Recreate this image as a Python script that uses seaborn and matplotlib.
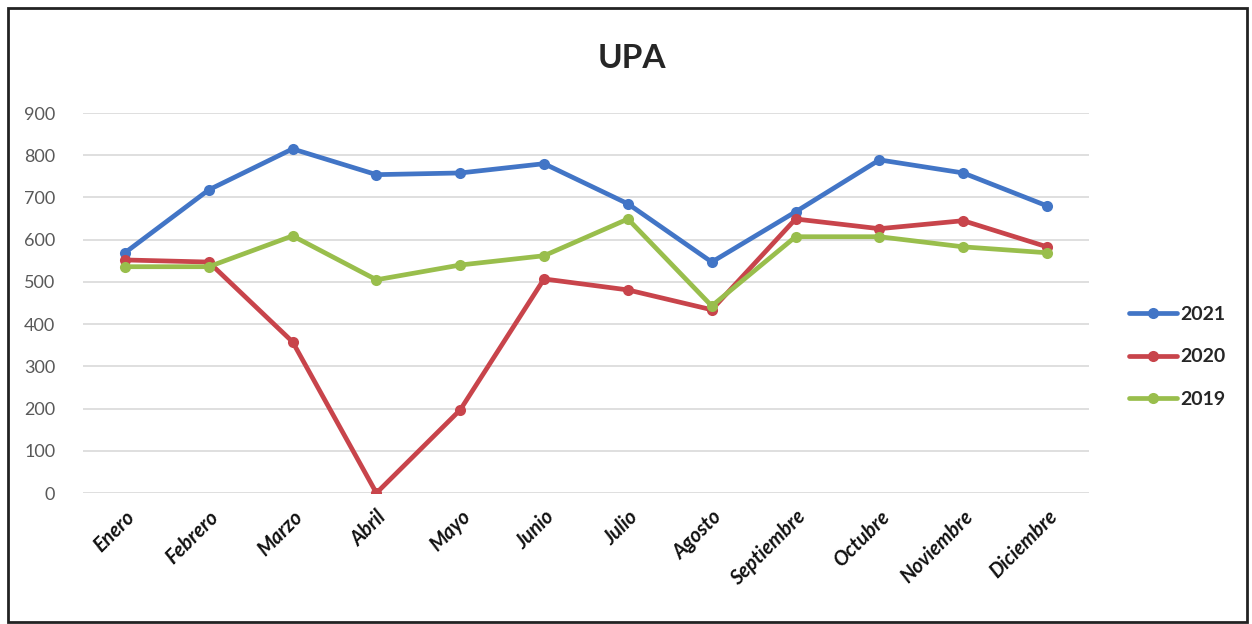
import matplotlib
matplotlib.use("Agg")
import matplotlib.pyplot as plt
import seaborn as sns
import pandas as pd
from matplotlib.patches import Rectangle

months = ["Enero", "Febrero", "Marzo", "Abril", "Mayo", "Junio", "Julio",
          "Agosto", "Septiembre", "Octubre", "Noviembre", "Diciembre"]
v2021 = [569, 718, 815, 754, 758, 780, 685, 547, 666, 789, 758, 680]
v2020 = [552, 547, 358, 0, 197, 507, 481, 434, 649, 626, 645, 583]
v2019 = [536, 536, 609, 505, 540, 562, 649, 443, 607, 607, 583, 569]
series_names = ["2021", "2020", "2019"]
yticks = [0, 100, 200, 300, 400, 500, 600, 700, 800, 900]

colors = {"2021": "#4275C6", "2020": "#C8444B", "2019": "#99BE4C"}

df = pd.concat([
    pd.DataFrame({"Mes": months, "Valor": vals, "Año": name})
    for name, vals in zip(series_names, [v2021, v2020, v2019])
], ignore_index=True)

sns.set_theme(style="white")
plt.rcParams['font.family'] = ['Lato', 'DejaVu Sans']

fig = plt.figure(figsize=(12.52, 6.24), dpi=100)
ax = fig.add_axes([0.0663, 0.2099, 0.8035, 0.609])

sns.lineplot(data=df, x="Mes", y="Valor", hue="Año", hue_order=series_names,
             palette=colors, marker="o", markersize=8, linewidth=3.4,
             markeredgewidth=0, sort=False, ax=ax, legend=True)

ax.set_xlim(-0.5, len(months) - 0.5)
ax.set_ylim(0, 900)
ax.set_yticks(yticks)
ax.set_yticklabels([str(t) for t in yticks], color="#595959", fontsize=13)
ax.set_xticks(range(len(months)))
ax.set_xticklabels(months, rotation=45, ha="right", rotation_mode="anchor",
                   fontsize=14.5, fontweight="bold", fontstyle="italic", color="#111111")
ax.tick_params(axis="x", length=0, pad=10)
ax.tick_params(axis="y", length=0, pad=20)
ax.set_xlabel("")
ax.set_ylabel("")
ax.grid(axis="y", color="#D9D9D9", linewidth=1.2)
ax.set_axisbelow(True)
for s in ax.spines.values():
    s.set_visible(False)

handles, labels = ax.get_legend_handles_labels()
leg = ax.legend(handles, labels, loc="center left", bbox_to_anchor=(1.022, 0.358),
                frameon=False, prop={"weight": "bold", "size": 14},
                handlelength=2.5, labelspacing=1.3, handletextpad=0.15)

fig.text(0.505, 0.907, "UPA", ha="center", va="center", fontsize=24, fontweight="bold")

fig.patches.append(Rectangle((0.006, 0.003), 0.99, 0.984, transform=fig.transFigure,
                             fill=False, edgecolor="#222222", linewidth=2))

fig.savefig("out.png", dpi=100, facecolor="white")
